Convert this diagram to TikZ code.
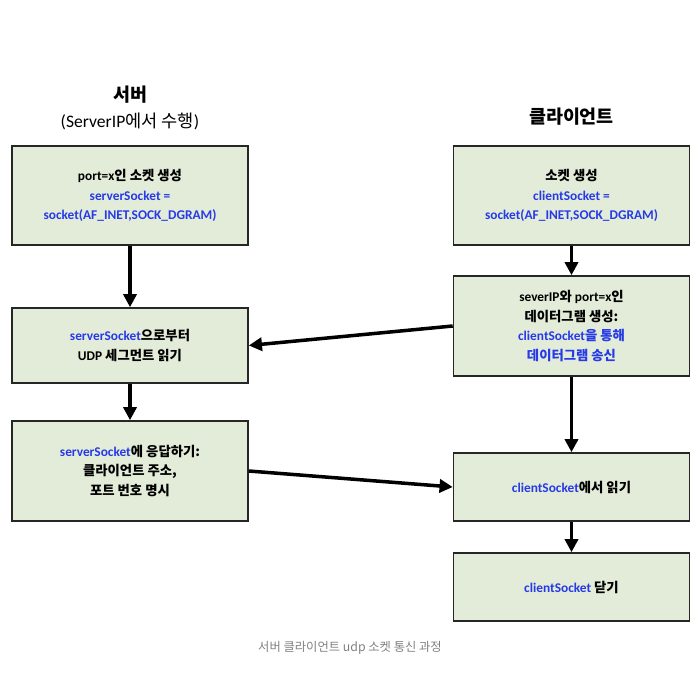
\documentclass[tikz,border=0pt]{standalone}
\usepackage{fontspec}
\setmainfont{Carlito}
\newfontfamily\kr{Noto Sans CJK KR}
\usetikzlibrary{positioning,arrows.meta}
\definecolor{boxgreen}{RGB}{227,236,216}
\definecolor{codeblue}{RGB}{38,58,232}
\newcommand{\code}[1]{\textcolor{codeblue}{#1}}
\newcommand{\ko}[1]{{\kr #1}}
\tikzset{
  procbox/.style={draw=black!85, line width=0.9pt, fill=boxgreen,
    minimum width=4.72cm, align=center, inner sep=2pt,
    font=\bfseries\fontsize{7.6}{11.3}\selectfont},
  flow/.style={line width=2pt, -{Triangle[length=7.5pt,width=7.5pt]}},
}

\begin{document}
\begin{tikzpicture}
      \useasboundingbox (0,0) rectangle (14,-14);

      % titles
      \node  (srvTitle) at (2.6,-1.9) {\bfseries\fontsize{10.5}{12}\selectfont\ko{서버}};
      \node  (srvNote) [below=-2pt of srvTitle] {\fontsize{10}{12}\selectfont(ServerIP\ko{에서 수행})};
      \node  (cliTitle) at (11.43,-2.34) {\bfseries\fontsize{10.5}{12}\selectfont\ko{클라이언트}};

      % server side
      \node  (srvOpen) [procbox, minimum height=1.98cm] at (2.6,-3.91)
        {port=x\ko{인 소켓 생성}\\ \code{serverSocket =}\\ \code{socket(AF\_INET,SOCK\_DGRAM)}};
      \node  (srvRead) [procbox, minimum height=1.5cm] at (2.6,-6.91)
        {\code{serverSocket}\ko{으로부터}\\ UDP \ko{세그먼트 읽기}};
      \node  (srvReply) [procbox, minimum height=2cm] at (2.6,-9.42)
        {\code{serverSocket}\ko{에 응답하기:}\\ \ko{클라이언트 주소,}\\ \ko{포트 번호 명시}};

      % client side
      \node  (cliOpen) [procbox, minimum height=1.98cm] at (11.43,-3.91)
        {\ko{소켓 생성}\\ \code{clientSocket =}\\ \code{socket(AF\_INET,SOCK\_DGRAM)}};
      \node  (cliSend) [procbox, minimum height=2cm] at (11.43,-6.52)
        {severIP\ko{와} port=x\ko{인}\\ \ko{데이터그램 생성:}\\ \code{clientSocket\ko{을 통해}}\\ \code{\ko{데이터그램 송신}}};
      \node  (cliRead) [procbox, minimum height=1.36cm] at (11.43,-9.74)
        {\code{clientSocket}\ko{에서 읽기}};
      \node  (cliClose) [procbox, minimum height=1.36cm] at (11.43,-11.74)
        {\code{clientSocket} \ko{닫기}};

      \node  (caption) at (7,-12.96) {\color{black!50}\fontsize{7}{8}\selectfont\ko{서버 클라이언트 udp 소켓 통신 과정}};

      \draw[flow] (srvOpen) to (srvRead);
      \draw[flow] (srvRead) to (srvReply);
      \draw[flow] (cliOpen) to (cliSend);
      \draw[flow] (cliSend) to (cliRead);
      \draw[flow] (cliRead) to (cliClose);
      \draw[flow] (cliSend.west) to (srvRead.east);
      \draw[flow] (srvReply.east) to (cliRead.west);
    \end{tikzpicture}
\end{document}
